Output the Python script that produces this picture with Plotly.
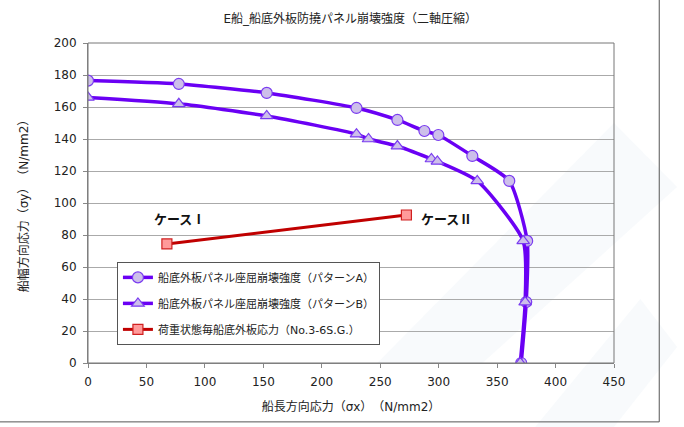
import plotly.graph_objects as go

# Pattern A (circles)
a_x = [0, 77.7, 152.9, 229.7, 264.7, 287.8, 299.7, 328.8, 360.4, 375.7, 374.9, 370.6]
a_y = [176.5, 174.4, 168.8, 159.4, 151.9, 145.0, 142.5, 129.4, 113.8, 76.3, 38.1, 0]
# Pattern B (triangles)
b_x = [0, 77.7, 152.9, 229.7, 240.0, 264.7, 293.8, 298.9, 333.0, 372.3, 374.0, 369.8]
b_y = [166.0, 162.0, 154.4, 143.0, 140.0, 135.6, 127.5, 126.0, 113.8, 76.3, 38.0, 0]
# Load case stress
c_x = [67.5, 272.4]
c_y = [74.4, 92.5]

names = [
    "船底外板パネル座屈崩壊強度（パターンA）",
    "船底外板パネル座屈崩壊強度（パターンB）",
    "荷重状態毎船底外板応力（No.3-6S.G.）",
]
case_labels = ["ケースⅠ", "ケースⅡ"]
case_x = [78.7, 307.0]
case_y = [90.6, 90.6]

title = "E船_船底外板防撓パネル崩壊強度（二軸圧縮）"
x_title = "船長方向応力（σx）　（N/mm2）"
y_title = "船幅方向応力（σy）　（N/mm2）"

FONT = "DejaVu Sans, Noto Sans CJK JP, sans-serif"
CJK = "Noto Sans CJK JP, sans-serif"
purple = "#6A00F4"

fig = go.Figure()
fig.add_trace(go.Scatter(
    x=a_x, y=a_y, name=names[0], mode="lines+markers",
    line=dict(color=purple, width=3.5, shape="spline", smoothing=0.6),
    marker=dict(symbol="circle", size=11, color="#CDBFEA", line=dict(color="#7A3CF0", width=1.2)),
    legendgroup="a"))
fig.add_trace(go.Scatter(
    x=b_x, y=b_y, name=names[1], mode="lines+markers",
    line=dict(color=purple, width=3.5, shape="spline", smoothing=0.6),
    marker=dict(symbol="triangle-up", size=11, color="#CDBFEA", line=dict(color="#7A3CF0", width=1.2)),
    legendgroup="b"))
fig.add_trace(go.Scatter(
    x=c_x, y=c_y, name=names[2], mode="lines+markers",
    line=dict(color="#C00000", width=3),
    marker=dict(symbol="square", size=10, color="#FF9A9A", line=dict(color="#D02020", width=1.2)),
    legendgroup="c"))

for t, x, y in zip(case_labels, case_x, case_y):
    fig.add_annotation(x=x, y=y, text="<b>" + t + "</b>", showarrow=False,
                       font=dict(family=CJK, size=13, color="#111111"))

# faint watermark-like stripes and outer border
shapes = [
    dict(type="path", xref="paper", yref="paper", layer="below",
         path="M 0.55 0.0 L 0.75 0.0 L 1.12 0.55 L 1.0 0.75 Z",
         fillcolor="rgba(225,233,243,0.22)", line=dict(width=0)),
    dict(type="path", xref="paper", yref="paper", layer="below",
         path="M 0.85 -0.2 L 1.0 -0.2 L 1.12 0.05 L 1.05 0.2 Z",
         fillcolor="rgba(225,233,243,0.22)", line=dict(width=0)),
    dict(type="line", xref="paper", yref="paper", x0=-0.2, x1=1.086, y0=-0.184, y1=-0.184,
         line=dict(color="#555555", width=1)),
    dict(type="line", xref="paper", yref="paper", x0=1.086, x1=1.086, y0=-0.184, y1=1.2,
         line=dict(color="#555555", width=1)),
]

fig.update_layout(
    width=684, height=427,
    margin=dict(l=88, r=70, t=43, b=64),
    paper_bgcolor="white", plot_bgcolor="white",
    font=dict(family=FONT, size=12, color="#222222"),
    title=dict(text=title, x=0.512, xanchor="center", y=0.955, yanchor="middle",
               font=dict(family=FONT, size=12, color="#222222")),
    showlegend=True,
    legend=dict(x=0.055, y=0.316, xanchor="left", yanchor="top",
                bgcolor="white", bordercolor="#555555", borderwidth=1,
                font=dict(family=FONT, size=11, color="#222222"),
                tracegroupgap=7, itemwidth=30),
    shapes=shapes,
    xaxis=dict(range=[0, 450], dtick=50, showgrid=False, zeroline=False,
               showline=True, linecolor="#888888", linewidth=1, mirror=False,
               ticks="outside", ticklen=4, tickcolor="#888888", ticklabelstandoff=4,
               tickfont=dict(family=FONT, size=12, color="#222222"),
               title=dict(text=x_title, standoff=14, font=dict(family=FONT, size=12))),
    yaxis=dict(range=[0, 200], dtick=20, showgrid=True, gridcolor="#AAAAAA", gridwidth=1,
               zeroline=False, showline=True, linecolor="#888888", linewidth=1,
               ticks="outside", ticklen=4, tickcolor="#888888", ticklabelstandoff=4,
               tickfont=dict(family=FONT, size=12, color="#222222"),
               title=dict(text=y_title, standoff=22, font=dict(family=FONT, size=12))),
)
# plot area border
fig.add_shape(type="rect", xref="paper", yref="paper", x0=0, x1=1, y0=0, y1=1,
              line=dict(color="#777777", width=1), layer="above")

fig.write_html("out.html")
